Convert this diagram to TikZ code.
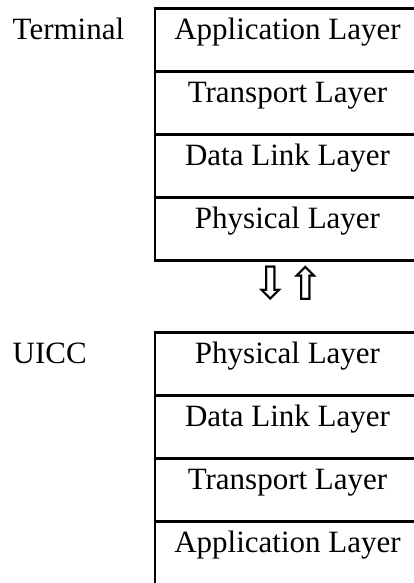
\documentclass[tikz,border=0pt]{standalone}
\usepackage{fontspec}
\setmainfont{Liberation Serif}
\newfontfamily\arrowfont{DejaVu Sans}
\usetikzlibrary{positioning}

\begin{document}
\begin{tikzpicture}[x=1pt,y=1pt,
    layernode/.style={rectangle, draw, line width=2.9pt, minimum width=265pt, inner sep=0pt, outer sep=0pt, text height=31pt, text depth=32pt, font=\fontsize{31}{36}\selectfont},
    sidenode/.style={anchor=base west, inner sep=0pt, font=\fontsize{31}{36}\selectfont},
    arrownode/.style={inner sep=0pt, font=\arrowfont\fontsize{46}{50}\selectfont},]
            \useasboundingbox (0,0) rectangle (414,-583);
            \clip (0,0) rectangle (414,-583);
            \coordinate (leftedge) at (12.5,0);

            %Terminal stack
            \node[layernode, anchor=north west](top_app) at (155,-8.3){Application Layer};
            \node[layernode](top_trans)[below=0pt of top_app]{Transport Layer};
            \node[layernode](top_link)[below=0pt of top_trans]{Data Link Layer};
            \node[layernode](top_phys)[below=0pt of top_link]{Physical Layer};

            %UICC stack
            \node[layernode, anchor=north west](bot_phys) at (155,-332.3){Physical Layer};
            \node[layernode](bot_link)[below=0pt of bot_phys]{Data Link Layer};
            \node[layernode](bot_trans)[below=0pt of bot_link]{Transport Layer};
            \node[layernode, text depth=40pt](bot_app)[below=0pt of bot_trans]{Application Layer};

            %Labels
            \node[sidenode](terminal) at (top_app.base -| leftedge){Terminal};
            \node[sidenode](uicc) at (bot_phys.base -| leftedge){UICC};

            %Arrows
            \node[arrownode](down_arrow) at (271,-283){⇩};
            \node[arrownode](up_arrow) at (306,-283){⇧};

        \end{tikzpicture}
\end{document}
